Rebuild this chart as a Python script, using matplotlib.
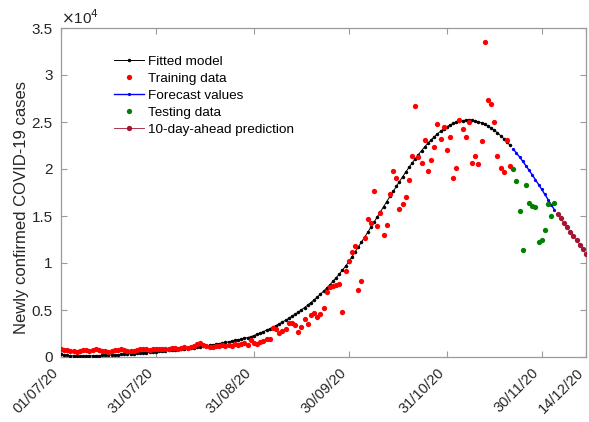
import matplotlib
matplotlib.use('Agg')
import matplotlib.pyplot as plt
from matplotlib.lines import Line2D
import numpy as np

plt.rcParams['font.family'] = ['Liberation Sans', 'DejaVu Sans']

# ---------------- data ----------------
tick_days = [0, 30, 61, 91, 122, 152, 166]
tick_labels = ['01/07/20', '31/07/20', '31/08/20', '30/09/20',
               '31/10/20', '30/11/20', '14/12/20']
y_ticks = [0, 5000, 10000, 15000, 20000, 25000, 30000, 35000]
y_tick_labels = ['0', '0.5', '1', '1.5', '2', '2.5', '3', '3.5']

train_start = 0      # 01/07/20
test_start = 143     # first day of testing / forecast
pred_start = 157     # first day of 10-day-ahead prediction

fitted = [
    320, 240, 180, 140, 115, 105, 100, 105, 112, 122,
    133, 145, 158, 172, 187, 203, 220, 238, 257, 277,
    298, 320, 343, 367, 392, 418, 445, 473, 502, 532,
    563, 595, 628, 662, 697, 733, 770, 808, 847, 887,
    928, 970, 1010, 1045, 1085, 1130, 1185, 1240, 1295, 1355,
    1420, 1485, 1550, 1620, 1690, 1760, 1835, 1910, 1990, 2070,
    2150, 2280, 2410, 2550, 2700, 2850, 3010, 3180, 3350, 3530,
    3720, 3910, 4110, 4320, 4540, 4770, 5010, 5260, 5520, 5790,
    6070, 6360, 6670, 6990, 7330, 7680, 8050, 8430, 8830, 9240,
    9680, 10150, 10675, 11179, 11693, 12214, 12741, 13275, 13815, 14356,
    14903, 15450, 15994, 16539, 17078, 17612, 18141, 18663, 19175, 19674,
    20163, 20636, 21092, 21533, 21957, 22357, 22735, 23093, 23426, 23733,
    24013, 24265, 24489, 24683, 24847, 24981, 25084, 25155, 25192, 25198,
    25172, 25114, 25026, 24905, 24754, 24570, 24358, 24116, 23847, 23549,
    23229, 22882, 22511,
]

training = [
    820, 760, 700, 690, 650, 560, 640, 700, 720, 680,
    760, 900, 780, 690, 620, 560, 640, 700, 740, 800,
    760, 680, 600, 640, 720, 800, 840, 800, 760, 820,
    830, 870, 900, 860, 880, 930, 960, 900, 1000, 1040,
    960, 1100, 1200, 1350, 1500, 1280, 1120, 1050, 1100, 1180,
    1150, 1250, 1120, 1300, 1220, 1400, 1250, 1350, 1520, 1280,
    1810, 1520, 1350, 1560, 1740, 1950, 1880, 3050, 3030, 2520,
    2730, 2940, 3650, 3600, 3370, 2700, 3230, 4040, 3510, 4470,
    4650, 4220, 4540, 5180, 6950, 7410, 7550, 7660, 7770, 4750,
    9180, 10210, 11140, 11840, 7130, 8050, 12690, 14650, 14220, 17660,
    13940, 15280, 12940, 14040, 17300, 19790, 19040, 15740, 16240, 17020,
    18830, 21420, 26740, 21310, 20600, 23090, 19820, 20960, 22370, 24790,
    23150, 24430, 22020, 23370, 19040, 20110, 25210, 24220, 23370, 25030,
    20670, 21380, 20500, 23010, 33510, 27340, 26910, 25030, 21420, 20140,
    19680, 23100, 20350,
]

forecast = [22118, 21705, 21274, 20820, 20354, 19870, 19376, 18870,
            18351, 17826, 17292, 16755, 16211, 15667]

testing = [19960, 18740, 15550, 11380, 18280, 16350, 16100, 15960,
           12220, 12400, 13510, 16240, 14950, 16400]

prediction = [15210, 14740, 14270, 13800, 13330, 12870, 12410, 11950,
              11450, 10960]

# ---------------- plot ----------------
fig = plt.figure(figsize=(5.89, 4.22), dpi=100)
ax = fig.add_axes([61/589, 1 - 357/422, 525/589, 329/422])

d_train = np.arange(train_start, train_start + len(training))
d_fit = np.arange(train_start, train_start + len(fitted))
d_test = np.arange(test_start, test_start + len(testing))
d_fc = np.arange(test_start, test_start + len(forecast))
d_pred = np.arange(pred_start, pred_start + len(prediction))

RED = '#ff0000'
GREEN = '#008000'
BLUE = '#0000ff'
DRED = '#a2142f'

ax.plot(d_fit, fitted, color='black', lw=0.7, marker='o', ms=1.5,
        mec='black', mfc='black', zorder=3)
ax.plot(d_train, training, ls='none', marker='o', ms=3.8, color=RED,
        mec='none', zorder=4)
ax.plot(d_fc, forecast, color=BLUE, lw=1.0, marker='o', ms=1.3,
        zorder=3)
ax.plot(d_test, testing, ls='none', marker='o', ms=3.8, color=GREEN,
        mec='none', zorder=4)
ax.plot(d_pred, prediction, color=DRED, lw=0.6, marker='o', ms=3.8,
        mec='none', zorder=4)

ax.set_xlim(0, 166)
ax.set_ylim(0, 35000)
ax.set_xticks(tick_days)
ax.set_xticklabels(tick_labels, rotation=45, ha='right', va='top',
                   fontsize=10.5)
ax.set_yticks(y_ticks)
ax.set_yticklabels(y_tick_labels, fontsize=11)

AXC = '#9a9a9a'
for s in ax.spines.values():
    s.set_color(AXC)
    s.set_linewidth(0.9)
ax.tick_params(axis='both', direction='in', top=True, right=True,
               length=4, width=0.8, color=AXC, labelcolor='#262626')
ax.tick_params(axis='x', pad=6.5)
ax.tick_params(axis='y', pad=6)

ax.set_ylabel('Newly confirmed COVID-19 cases', fontsize=12,
              color='#262626')
ax.yaxis.set_label_coords(-0.060, (357 - 208) / 329)
ax.text(0.0, 1.003, r'$\times$10$^{4}$', transform=ax.transAxes,
        fontsize=11, color='#262626', ha='left', va='bottom')

handles = [
    Line2D([], [], color='black', lw=0.7, marker='o', ms=1.5),
    Line2D([], [], ls='none', marker='o', ms=3.8, color=RED, mec='none'),
    Line2D([], [], color=BLUE, lw=1.0, marker='o', ms=1.3),
    Line2D([], [], ls='none', marker='o', ms=3.8, color=GREEN, mec='none'),
    Line2D([], [], color=DRED, lw=0.6, marker='o', ms=3.8, mec='none'),
]
labels = ['Fitted model', 'Training data', 'Forecast values',
          'Testing data', '10-day-ahead prediction']
ax.legend(handles, labels, loc='upper left', bbox_to_anchor=(0.101, 0.917),
          frameon=False, fontsize=9.7, handlelength=2.25, handletextpad=0.25,
          labelspacing=0.34, borderpad=0, borderaxespad=0, markerscale=1.0)

fig.savefig('out.png', dpi=100)
